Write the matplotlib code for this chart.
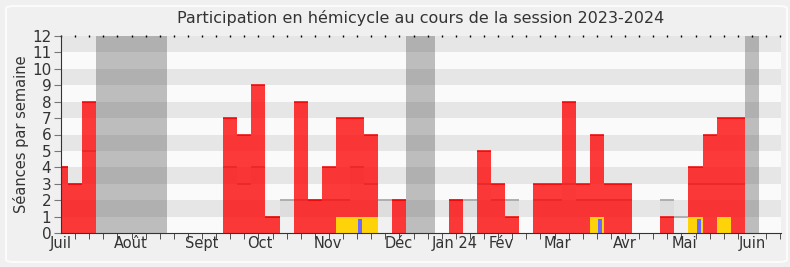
# plot.py
# Weekly participation chart (hemicycle), session 2023-2024

import numpy as np
import matplotlib.pyplot as plt
from matplotlib.patches import FancyBboxPatch

plt.rcParams['font.family'] = 'DejaVu Sans'

# one value per week, week 0 = first week of July 2023
presence = [4, 3, 8, 0, 0, 0, 0, 0, 0, 0, 0, 0, 7, 6, 9, 1, 0, 8, 2, 4, 7, 7, 6, 0, 2, 0,
            0, 0, 2, 0, 5, 3, 1, 0, 3, 3, 8, 3, 6, 3, 3, 0, 0, 1, 0, 4, 6, 7, 7, 0, 0, 0]
mediane = [4, 3, 5, 0, 0, 0, 0, 0, 0, 0, 0, 0, 4, 3, 4, 1, 2, 2, 2, 2, 2, 4, 3, 2, 2, 0,
           0, 0, 2, 2, 3, 2, 2, 0, 2, 2, 3, 2, 2, 2, 2, 0, 0, 2, 1, 3, 3, 3, 3, 0, 0, 0]
interventions = [0] * 52
for w in [20, 21, 22, 38, 45, 47]:
    interventions[w] = 1
questions = [0] * 52
for w in [21, 38, 45]:
    questions[w] = 1
vacances = [(3, 7), (25, 26), (49, 49)]   # first and last week of each break
mois = ['Juil', 'Août', 'Sept', 'Oct', 'Nov', 'Déc', 'Jan 24', 'Fév', 'Mar', 'Avr', 'Mai', 'Juin']
mois_pos = [0, 4.96, 9.98, 14.13, 18.94, 23.97, 27.94, 31.19, 35.18, 39.98, 44.18, 49.0]

semaines = np.arange(len(presence))

fig = plt.figure(figsize=(7.9, 2.67), dpi=100, facecolor='#f0f0f0')
fig.patches.append(FancyBboxPatch((6 / 790, 5 / 267), 781 / 790, 256 / 267,
                                  boxstyle='round,pad=0,rounding_size=0.01',
                                  transform=fig.transFigure, facecolor='none',
                                  edgecolor='#fbfbfb', linewidth=1.5, zorder=0))
ax = fig.add_axes([61 / 790, 34 / 267, 720 / 790, 197 / 267])
ax.set_facecolor('#fafafa')

# horizontal stripes
for k in range(1, 12, 2):
    ax.axhspan(k, k + 1, color='#e6e6e6', lw=0, zorder=0)

# median of all deputies (grey)
ax.bar(semaines, mediane, width=1, color=(0, 0, 0, 0.035), lw=0, zorder=1)
med = np.array(mediane)
m = med > 0
ax.hlines(med[m], semaines[m] - 0.5, semaines[m] + 0.5, color='#aaaaaa', lw=1.3, zorder=1.5)

# presence in red
pres = np.array(presence)
ax.bar(semaines, pres, width=1, color=(1, 0, 0, 0.77), lw=0, zorder=2)
p = pres > 0
ax.hlines(pres[p], semaines[p] - 0.5, semaines[p] + 0.5, color='#f00000', lw=1.1, zorder=2.5)

# interventions (yellow) and questions (blue)
ax.bar(semaines, interventions, width=1, color='#ffd30a', lw=0, zorder=3)
ax.bar(semaines + 0.22, np.array(questions) * 0.85, width=0.28, color='#6a6aff', lw=0, zorder=4)

# holidays
for a, b in vacances:
    ax.axvspan(a - 0.5, b + 0.5, color=(0.3, 0.3, 0.3, 0.35), lw=0, zorder=5)

ax.set_xlim(0, 51.06)
ax.set_ylim(0, 12)
ax.set_yticks(range(13))
ax.tick_params(axis='y', labelsize=11, colors='#333333', length=5, color='#777777', pad=2)
ax.set_xticks(mois_pos)
ax.set_xticklabels(mois)
ax.tick_params(axis='x', which='major', length=0, labelsize=10.5, labelcolor='#333333', pad=2)
ax.set_xticks(semaines, minor=True)
ax.tick_params(axis='x', which='minor', length=4, color='#333333', top=False, bottom=True)

# little dots along the top
for w in semaines:
    ax.plot(w, 11.97, marker='|', ms=1.5, mew=1, color='black', clip_on=False, zorder=6)

for s in ['top', 'right']:
    ax.spines[s].set_visible(False)
for s in ['left', 'bottom']:
    ax.spines[s].set_color('#333333')
    ax.spines[s].set_zorder(7)

ax.set_ylabel('Séances par semaine', fontsize=10.5, color='#333333', labelpad=2)
fig.text(421 / 790, 1 - 18 / 267, 'Participation en hémicycle au cours de la session 2023-2024',
         ha='center', va='center', fontsize=11.5, color='#333333')

plt.savefig('out.png', dpi=100, facecolor=fig.get_facecolor())
